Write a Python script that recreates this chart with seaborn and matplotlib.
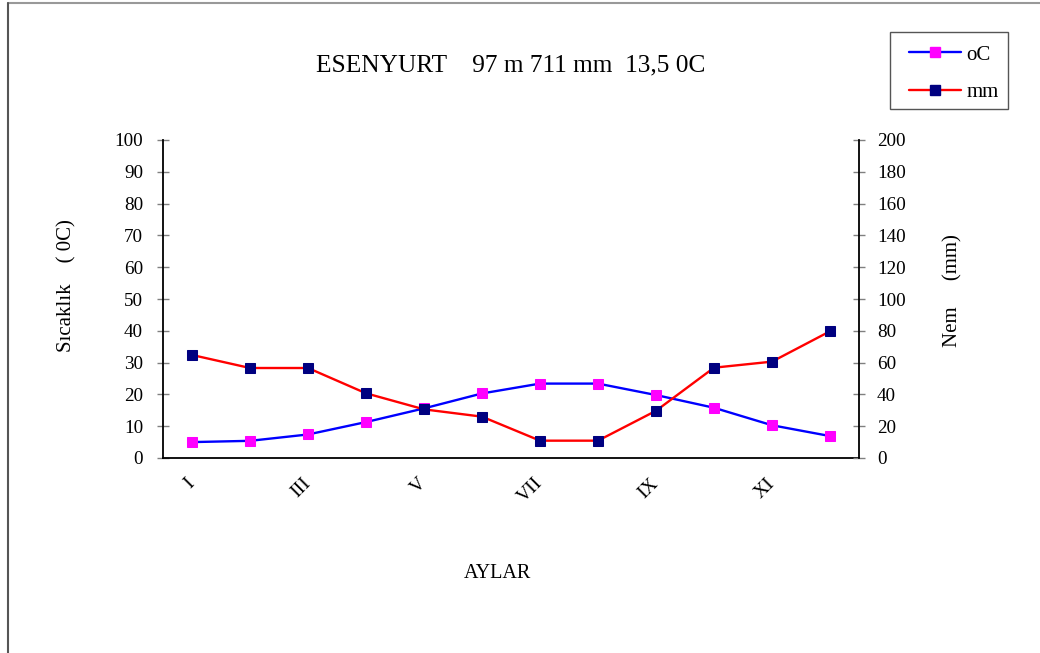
import matplotlib
matplotlib.use('Agg')
import matplotlib.pyplot as plt
import matplotlib.transforms as mtransforms
from matplotlib.lines import Line2D
from matplotlib.patches import Rectangle
import seaborn as sns
import pandas as pd
import numpy as np

# ---- data ----
months = ['I', 'II', 'III', 'IV', 'V', 'VI', 'VII', 'VIII', 'IX', 'X', 'XI', 'XII']
temperature = [5.0, 5.4, 7.4, 11.3, 15.6, 20.3, 23.4, 23.4, 19.8, 15.8, 10.3, 6.9]
precipitation = [64.8, 56.6, 56.6, 40.7, 30.6, 26.0, 10.9, 10.9, 29.7, 56.8, 60.6, 79.7]
left_ticks = list(range(0, 101, 10))
right_ticks = list(range(0, 201, 20))
title = 'ESENYURT    97 m 711 mm  13,5 0C'
series_names = ['oC', 'mm']

sns.set_theme(style='white')
plt.rcParams['font.family'] = ['Liberation Serif', 'DejaVu Serif']
plt.rcParams['text.color'] = 'black'
plt.rcParams['axes.labelcolor'] = 'black'
plt.rcParams['xtick.color'] = 'black'
plt.rcParams['ytick.color'] = 'black'

W, H = 1040, 653
fig = plt.figure(figsize=(W / 100, H / 100), dpi=100)
ax = fig.add_axes([163 / W, 1 - 458 / H, 696 / W, 318 / H])
ax.patch.set_alpha(0)
ax2 = ax.twinx()
ax2.patch.set_alpha(0)

df = pd.DataFrame({'pos': np.arange(len(months)), 'month': months,
                   'oC': temperature, 'mm': precipitation})

temp_style = dict(color='#0000FF', lw=1.7, marker='s', markersize=7.5,
                  markerfacecolor='#FF00FF', markeredgecolor='#FF00FF')
prec_style = dict(color='#FF0000', lw=1.7, marker='s', markersize=7.5,
                  markerfacecolor='#000080', markeredgecolor='#000080')

sns.lineplot(data=df, x='pos', y='oC', ax=ax, legend=False, **temp_style)
sns.lineplot(data=df, x='pos', y='mm', ax=ax2, legend=False, **prec_style)

ax.set_xlim(-0.5, len(months) - 0.5)
ax.set_ylim(0, 100)
ax2.set_ylim(0, 200)
ax.set_yticks(left_ticks)
ax.set_yticklabels([str(t) for t in left_ticks])
ax2.set_yticks(right_ticks)
ax2.set_yticklabels([str(t) for t in right_ticks])

ax.set_xticks(np.arange(0, len(months), 2))
ax.set_xticklabels(months[::2], rotation=45, ha='right')
ax.set_xticks(np.arange(-0.5, len(months), 1), minor=True)
ax.set_xlabel('')
ax.set_ylabel('')
ax2.set_ylabel('')

ax.tick_params(axis='x', which='major', length=0, pad=12, labelsize=14, labelcolor='black')
ax.tick_params(axis='x', which='minor', length=11, width=1, direction='inout', color='#808080')
ax.tick_params(axis='y', length=8, width=1, direction='inout', color='#808080',
               pad=10.4, labelsize=13.8, labelcolor='black', left=True)
ax2.tick_params(axis='y', length=8, width=1, direction='inout', color='#808080',
                pad=9, labelsize=13.8, labelcolor='black', right=True)

offset = mtransforms.ScaledTranslation(6 / 100, 0, fig.dpi_scale_trans)
for t in ax.get_xticklabels():
    t.set_transform(t.get_transform() + offset)

for s in ['top', 'right']:
    ax.spines[s].set_visible(False)
for s in ['top', 'left', 'bottom']:
    ax2.spines[s].set_visible(False)
for sp in [ax.spines['left'], ax.spines['bottom'], ax2.spines['right']]:
    sp.set_color('black')
    sp.set_linewidth(1.3)
ax.grid(False)
ax2.grid(False)

# texts
fig.text(511 / W, 1 - 65 / H, title, ha='center', va='center', fontsize=18.3, color='black')
fig.text(497 / W, 1 - 574 / H, 'AYLAR', ha='center', va='center', fontsize=14.5, color='black')
fig.text(67 / W, 1 - 286 / H, 'Sıcaklık    ( 0C)', rotation=90,
         ha='center', va='center', fontsize=15, color='black')
fig.text(953 / W, 1 - 291 / H, 'Nem     (mm)', rotation=90,
         ha='center', va='center', fontsize=15, color='black')

# legend (frame drawn separately)
handles = [Line2D([0], [0], **temp_style), Line2D([0], [0], **prec_style)]
leg = fig.legend(handles, series_names, loc='center left',
                 bbox_to_anchor=(909 / W, 1 - 73.5 / H), borderaxespad=0,
                 fontsize=15, frameon=False, handlelength=2.5, handletextpad=0.25,
                 labelspacing=0.85, borderpad=0, numpoints=1)
for txt in leg.get_texts():
    txt.set_color('black')
fig.add_artist(Rectangle((890 / W, 1 - 109 / H), 118 / W, 77 / H,
                         transform=fig.transFigure, fill=False,
                         edgecolor='#555555', lw=1.0))

# page frame lines
fig.add_artist(Line2D([8 / W, 1], [1 - 3 / H, 1 - 3 / H], transform=fig.transFigure,
                      color='#999999', lw=1.5))
fig.add_artist(Line2D([8 / W, 8 / W], [0, 1 - 3 / H], transform=fig.transFigure,
                      color='#555555', lw=1.5))

fig.savefig('out.png', dpi=100)
